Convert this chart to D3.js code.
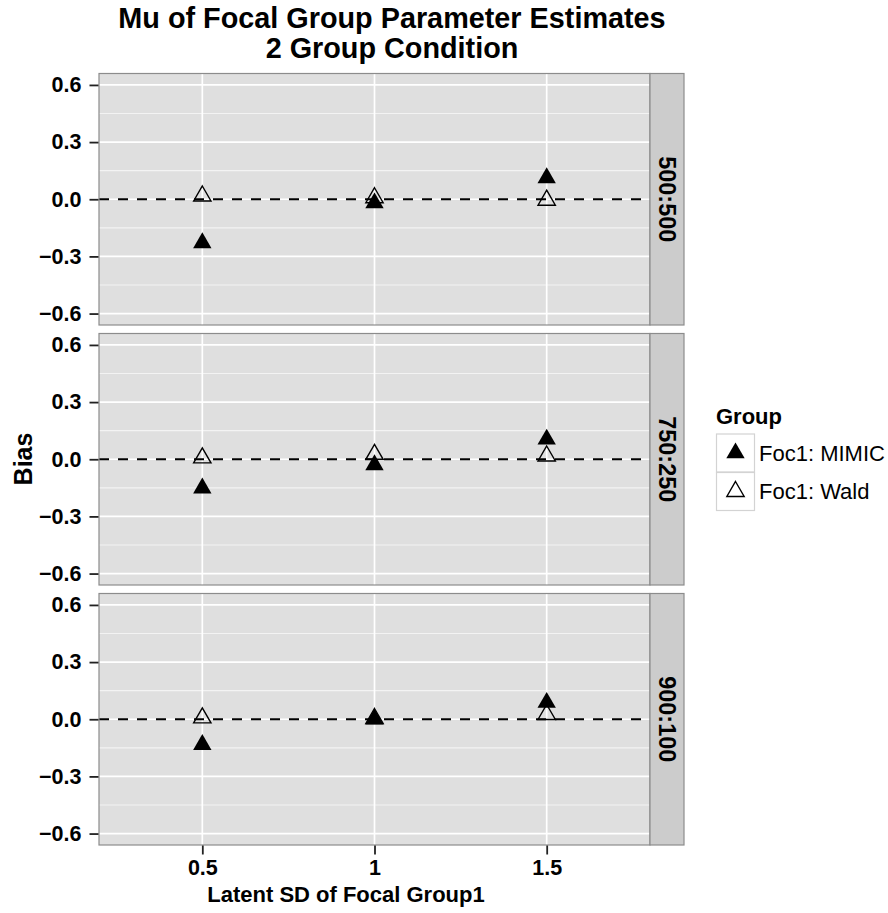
<!DOCTYPE html>
<html>
<head>
<meta charset="utf-8">
<script src="https://cdn.jsdelivr.net/npm/d3@7"></script>
<style>
  html, body { margin: 0; padding: 0; background: #ffffff; }
  svg { display: block; font-family: "Liberation Sans", Arial, Helvetica, sans-serif; }
</style>
</head>
<body>
<svg id="chart" width="888" height="913"></svg>
<script>
// Latent SD levels of focal group 1 (discrete x axis)
const sdLevels = ["0.5", "1", "1.5"];
// Sample-size ratio facets (rows)
const ratios = ["500:500", "750:250", "900:100"];
// Estimation methods shown in the legend
const groups = ["Foc1: MIMIC", "Foc1: Wald"];
// Bias of the focal-group mean, one row per ratio, one value per SD level
const mimicBias = [
  [-0.229, -0.020, 0.112],
  [-0.152, -0.030, 0.105],
  [-0.133,  0.000, 0.088]
];
const waldBias = [
  [0.017, 0.008, -0.005],
  [0.007, 0.026,  0.017],
  [0.007, 0.004,  0.025]
];
const yTicks = [-0.6, -0.3, 0.0, 0.3, 0.6];
const yMinor = [-0.45, -0.15, 0.15, 0.45];

const svg = d3.select("#chart");

const panelLeft = 99, panelRight = 650, stripW = 34;
const panelTops = [73.5, 333.5, 593.5];
const panelH = 251.5;

const x = d3.scalePoint().domain(sdLevels).range([panelLeft, panelRight]).padding(0.6);

// triangle path, circumradius r, centred at its centroid
function tri(r) {
  return d3.symbol().type(d3.symbolTriangle).size(Math.pow(r / 2, 2) * 3 * Math.sqrt(3))();
}
const filledPath = tri(10.6);
const hollowPath = tri(10.0);

ratios.forEach((ratio, i) => {
  const top = panelTops[i];
  const y = d3.scaleLinear().domain([-0.66, 0.66]).range([top + panelH, top]);
  const g = svg.append("g");

  // panel background
  g.append("rect")
    .attr("x", panelLeft).attr("y", top)
    .attr("width", panelRight - panelLeft).attr("height", panelH)
    .attr("fill", "#dfdfdf");

  // minor grid
  g.selectAll(".minor").data(yMinor).enter().append("line")
    .attr("x1", panelLeft).attr("x2", panelRight)
    .attr("y1", d => y(d)).attr("y2", d => y(d))
    .attr("stroke", "#f3f3f3").attr("stroke-width", 1.2);

  // major grid
  g.selectAll(".majorY").data(yTicks).enter().append("line")
    .attr("x1", panelLeft).attr("x2", panelRight)
    .attr("y1", d => y(d)).attr("y2", d => y(d))
    .attr("stroke", "#ffffff").attr("stroke-width", 1.7);
  g.selectAll(".majorX").data(sdLevels).enter().append("line")
    .attr("x1", d => x(d)).attr("x2", d => x(d))
    .attr("y1", top).attr("y2", top + panelH)
    .attr("stroke", "#ffffff").attr("stroke-width", 1.7);

  // zero reference line
  g.append("line")
    .attr("x1", panelLeft).attr("x2", panelRight)
    .attr("y1", y(0)).attr("y2", y(0))
    .attr("stroke", "#000").attr("stroke-width", 1.9)
    .attr("stroke-dasharray", "10,9");

  // points
  g.selectAll(".mimic").data(mimicBias[i]).enter().append("path")
    .attr("d", filledPath)
    .attr("transform", (d, j) => `translate(${x(sdLevels[j])},${y(d)})`)
    .attr("fill", "#000");
  g.selectAll(".wald").data(waldBias[i]).enter().append("path")
    .attr("d", hollowPath)
    .attr("transform", (d, j) => `translate(${x(sdLevels[j])},${y(d)})`)
    .attr("fill", "none").attr("stroke", "#000").attr("stroke-width", 1.4);

  // panel border
  g.append("rect")
    .attr("x", panelLeft).attr("y", top)
    .attr("width", panelRight - panelLeft).attr("height", panelH)
    .attr("fill", "none").attr("stroke", "#8c8c8c").attr("stroke-width", 1.2);

  // facet strip
  g.append("rect")
    .attr("x", panelRight).attr("y", top)
    .attr("width", stripW).attr("height", panelH)
    .attr("fill", "#cccccc").attr("stroke", "#8c8c8c").attr("stroke-width", 1.2);
  g.append("text")
    .attr("transform", `translate(${panelRight + stripW / 2},${top + panelH / 2}) rotate(90)`)
    .attr("text-anchor", "middle").attr("dy", "0.36em")
    .attr("font-size", 23.5).attr("font-weight", "bold").attr("fill", "#000")
    .text(ratio);

  // y axis
  const yAxis = d3.axisLeft(y).tickValues(yTicks).tickSize(9).tickPadding(8)
    .tickFormat(d => d3.format(".1f")(d).replace("-", "\u2212"));
  const ya = svg.append("g").attr("transform", `translate(${panelLeft - 0.5},0)`).call(yAxis);
  ya.select(".domain").remove();
  ya.selectAll("line").attr("stroke", "#222").attr("stroke-width", 1.8);
  ya.selectAll("text").attr("font-size", 21.5).attr("font-weight", "bold").attr("fill", "#000")
    .attr("font-family", "Liberation Sans, Arial, sans-serif");
});

// x axis under the last panel
const bottom = panelTops[2] + panelH;
const xAxis = d3.axisBottom(x).tickSize(9).tickPadding(5);
const xa = svg.append("g").attr("transform", `translate(0,${bottom + 0.5})`).call(xAxis);
xa.select(".domain").remove();
xa.selectAll("line").attr("stroke", "#222").attr("stroke-width", 1.8);
xa.selectAll("text").attr("font-size", 21.5).attr("font-weight", "bold").attr("fill", "#000")
  .attr("font-family", "Liberation Sans, Arial, sans-serif");

// axis titles
svg.append("text")
  .attr("x", 346).attr("y", 902)
  .attr("text-anchor", "middle")
  .attr("font-size", 22).attr("font-weight", "bold")
  .text("Latent SD of Focal Group1");
svg.append("text")
  .attr("transform", `translate(32,459) rotate(-90)`)
  .attr("text-anchor", "middle")
  .attr("font-size", 25).attr("font-weight", "bold")
  .text("Bias");

// plot title
const title = svg.append("text").attr("text-anchor", "middle")
  .attr("font-size", 28.8).attr("font-weight", "bold");
title.append("tspan").attr("x", 392).attr("y", 28).text("Mu of Focal Group Parameter Estimates");
title.append("tspan").attr("x", 392).attr("y", 58).text("2 Group Condition");

// legend
const lg = svg.append("g");
lg.append("text").attr("x", 716).attr("y", 424)
  .attr("font-size", 22).attr("font-weight", "bold").text("Group");
const keySize = 38;
groups.forEach((name, k) => {
  const ky = 434 + k * (keySize + 0.5);
  lg.append("rect").attr("x", 716.5).attr("y", ky)
    .attr("width", keySize).attr("height", keySize)
    .attr("fill", "#ffffff").attr("stroke", "#d3d3d3").attr("stroke-width", 1.2);
  const sym = lg.append("path")
    .attr("transform", `translate(${716.5 + keySize / 2},${ky + keySize / 2})`);
  if (k === 0) sym.attr("d", filledPath).attr("fill", "#000");
  else sym.attr("d", hollowPath).attr("fill", "none").attr("stroke", "#000").attr("stroke-width", 1.4);
  lg.append("text").attr("x", 759).attr("y", ky + keySize / 2)
    .attr("dy", "0.36em").attr("font-size", 22).text(name);
});
</script>
</body>
</html>
